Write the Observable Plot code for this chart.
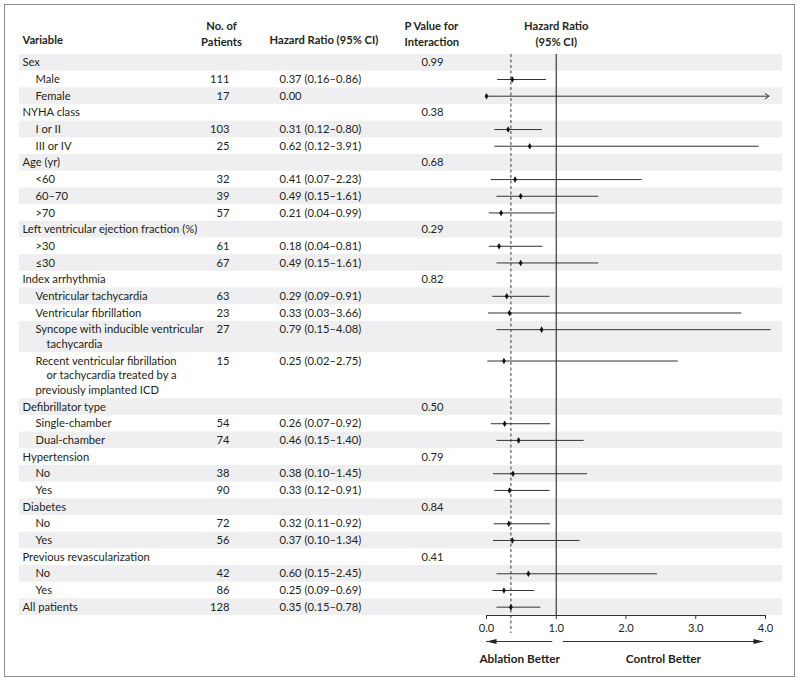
<!DOCTYPE html>
<html><head><meta charset="utf-8">
<script src="https://cdn.jsdelivr.net/npm/d3@7"></script>
<script src="https://cdn.jsdelivr.net/npm/@observablehq/plot@0.6"></script>
<style>
html,body{margin:0;padding:0;background:#fff;}
#wrap{position:relative;width:800px;height:681px;overflow:hidden;}
#chart{position:absolute;left:0;top:0;}
#border{position:absolute;left:4px;top:4px;width:791px;height:673px;box-sizing:border-box;border:1.5px solid #8c8c8c;pointer-events:none;}
</style></head><body>
<div id="wrap"><div id="chart"></div><div id="border"></div></div>
<script>
// ---- data ----
const variables = [
  "Sex","Male","Female",
  "NYHA class","I or II","III or IV",
  "Age (yr)","<60","60–70",">70",
  "Left ventricular ejection fraction (%)",">30","≤30",
  "Index arrhythmia","Ventricular tachycardia","Ventricular fibrillation",
  "Syncope with inducible ventricular\ntachycardia",
  "Recent ventricular fibrillation\nor tachycardia treated by a\npreviously implanted ICD",
  "Defibrillator type","Single-chamber","Dual-chamber",
  "Hypertension","No","Yes",
  "Diabetes","No","Yes",
  "Previous revascularization","No","Yes",
  "All patients"
];
const levels = [0,1,1, 0,1,1, 0,1,1,1, 0,1,1, 0,1,1,1,1, 0,1,1, 0,1,1, 0,1,1, 0,1,1, 0];
const patients = [null,111,17, null,103,25, null,32,39,57, null,61,67, null,63,23,27,15, null,54,74, null,38,90, null,72,56, null,42,86, 128];
const hazardRatios = [null,0.37,0.00, null,0.31,0.62, null,0.41,0.49,0.21, null,0.18,0.49, null,0.29,0.33,0.79,0.25, null,0.26,0.46, null,0.38,0.33, null,0.32,0.37, null,0.60,0.25, 0.35];
const ciLower = [null,0.16,0.00, null,0.12,0.12, null,0.07,0.15,0.04, null,0.04,0.15, null,0.09,0.03,0.15,0.02, null,0.07,0.15, null,0.10,0.12, null,0.11,0.10, null,0.15,0.09, 0.15];
const ciUpper = [null,0.86,null, null,0.80,3.91, null,2.23,1.61,0.99, null,0.81,1.61, null,0.91,3.66,4.08,2.75, null,0.92,1.40, null,1.45,0.91, null,0.92,1.34, null,2.45,0.69, 0.78];
const ciOpenUpper = [false,false,true, false,false,false, false,false,false,false, false,false,false, false,false,false,false,false, false,false,false, false,false,false, false,false,false, false,false,false, false];
const pInteraction = ["0.99",null,null, "0.38",null,null, "0.68",null,null,null, "0.29",null,null, "0.82",null,null,null,null, "0.50",null,null, "0.79",null,null, "0.84",null,null, "0.41",null,null, null];
const axisTicks = [0, 1, 2, 3, 4];
const directionLabels = ["Ablation Better", "Control Better"];
const directionFrom = [0.95, 1.10];
const directionTo = [0.00, 3.97];
const headerLabels = ["Variable", "No. of\nPatients", "Hazard Ratio (95% CI)", "P Value for\nInteraction", "Hazard Ratio\n(95% CI)"];

// ---- layout from data ----
const LINE = 0.88; // extra line height within a row (in row units)
let cursor = 0;
const fmt = d3.format(".2f");
const rows = variables.map((label, i) => {
  const lines = label.split("\n");
  const h = 1 + (lines.length - 1) * LINE;
  const r = {
    i, label, lines, level: levels[i], n: patients[i], hr: hazardRatios[i],
    lo: ciLower[i], hi: ciUpper[i], open: ciOpenUpper[i], p: pInteraction[i],
    top: cursor, bottom: cursor + h, mid: cursor + 0.5
  };
  r.hrText = r.hr == null ? "" : (r.hi == null ? fmt(r.hr) : `${fmt(r.hr)} (${fmt(r.lo)}–${fmt(r.hi)})`);
  cursor += h;
  return r;
});
const total = cursor;
const overallHR = hazardRatios[hazardRatios.length - 1];
const lineItems = rows.flatMap(r => r.lines.map((t, j) => ({text: t, y: r.mid + j * LINE, indent: j === 1 ? 2 : r.level})));
const directions = directionLabels.map((label, i) => ({label, from: directionFrom[i], to: directionTo[i]}));

const ink = "#231f20";
const slimTriangle = {
  draw(ctx) { ctx.moveTo(0, 0); ctx.lineTo(-10, -2.6); ctx.lineTo(-10, 2.6); ctx.closePath(); }
};
const openEnd = d3.max(axisTicks) + 0.05;
const FS = 11.2;

const plot = Plot.plot({
  width: 800, height: 681,
  marginTop: 54, marginBottom: 66, marginLeft: 19, marginRight: 18,
  x: {domain: [axisTicks[0], d3.max(axisTicks)], range: [486, 765]},
  y: {domain: [0, total], range: [54, 615], axis: null},
  style: {fontFamily: "Lato, 'Noto Sans', sans-serif", fontSize: FS + "px", color: ink, background: "transparent", overflow: "visible"},
  marks: [
    Plot.rect(rows.filter(r => r.i % 2 === 0), {y1: "top", y2: "bottom", fill: "#efeff1"}),
    Plot.ruleX([1], {stroke: "#3a3a3a", strokeWidth: 1.2}),
    Plot.ruleX([overallHR], {stroke: "#3a3a3a", strokeWidth: 1, strokeDasharray: "3,2.5", insetBottom: -18}),
    Plot.ruleY(rows.filter(r => r.lo != null && r.hi != null), {y: "mid", x1: "lo", x2: "hi", stroke: "#333", strokeWidth: 1}),
    Plot.arrow(rows.filter(r => r.open), {x1: "hr", x2: () => openEnd, y1: "mid", y2: "mid", stroke: "#333", strokeWidth: 1, headLength: 7, headAngle: 70}),
    Plot.dot(rows.filter(r => r.hr != null), {x: "hr", y: "mid", symbol: "diamond", r: 2, fill: "#111", stroke: null}),
    // x axis
    Plot.ruleY([total], {x1: axisTicks[0], x2: d3.max(axisTicks), stroke: "#333", strokeWidth: 1}),
    Plot.axisX({ticks: axisTicks, tickFormat: d3.format(".1f"), tickSize: 4, tickPadding: 5, label: null, anchor: "bottom", stroke: "#333", fill: ink, fontSize: FS}),
    // direction arrows
    Plot.ruleY(directions, {y: () => total, x1: "from", x2: "to", dy: 26, stroke: "#333", strokeWidth: 1.2}),
    Plot.dot(directions, {x: "to", y: () => total, dy: 26, symbol: slimTriangle, rotate: d => d.to < d.from ? 180 : 0, fill: "#222", stroke: null}),
    Plot.text(directions, {x: d => (d.from + d.to) / 2, frameAnchor: "bottom", lineAnchor: "middle", dy: 44, text: "label", fontWeight: "bold", fontSize: 11.8, fill: ink}),
    // table text
    Plot.text(lineItems.filter(d => d.indent === 0), {y: "y", text: "text", frameAnchor: "left", dx: 3, textAnchor: "start", fill: ink}),
    Plot.text(lineItems.filter(d => d.indent === 1), {y: "y", text: "text", frameAnchor: "left", dx: 16, textAnchor: "start", fill: ink}),
    Plot.text(lineItems.filter(d => d.indent === 2), {y: "y", text: "text", frameAnchor: "left", dx: 27, textAnchor: "start", fill: ink}),
    Plot.text(rows.filter(r => r.n != null), {y: "mid", text: d => String(d.n), frameAnchor: "left", dx: 210, textAnchor: "end", fill: ink}),
    Plot.text(rows.filter(r => r.hr != null), {y: "mid", text: "hrText", frameAnchor: "left", dx: 260, textAnchor: "start", fill: ink}),
    Plot.text(rows.filter(r => r.p != null), {y: "mid", text: "p", frameAnchor: "left", dx: 413, textAnchor: "middle", fill: ink}),
    // headers
    Plot.text([headerLabels[0]], {frameAnchor: "top-left", lineAnchor: "middle", dx: 3, dy: -14, text: d => d, textAnchor: "start", fontWeight: "bold", fill: ink}),
    Plot.text([headerLabels[1]], {frameAnchor: "top-left", lineAnchor: "middle", dx: 202, dy: -22, text: d => d, textAnchor: "middle", lineHeight: 1.45, fontWeight: "bold", fill: ink}),
    Plot.text([headerLabels[2]], {frameAnchor: "top-left", lineAnchor: "middle", dx: 250, dy: -14, text: d => d, textAnchor: "start", fontWeight: "bold", fill: ink}),
    Plot.text([headerLabels[3]], {frameAnchor: "top-left", lineAnchor: "middle", dx: 385, dy: -22, text: d => d, textAnchor: "start", lineHeight: 1.45, fontWeight: "bold", fill: ink}),
    Plot.text([headerLabels[4]], {x: () => 1, frameAnchor: "top", lineAnchor: "middle", dy: -22, text: d => d, textAnchor: "middle", lineHeight: 1.45, fontWeight: "bold", fill: ink})
  ]
});
document.getElementById("chart").appendChild(plot);
</script>
</body></html>
